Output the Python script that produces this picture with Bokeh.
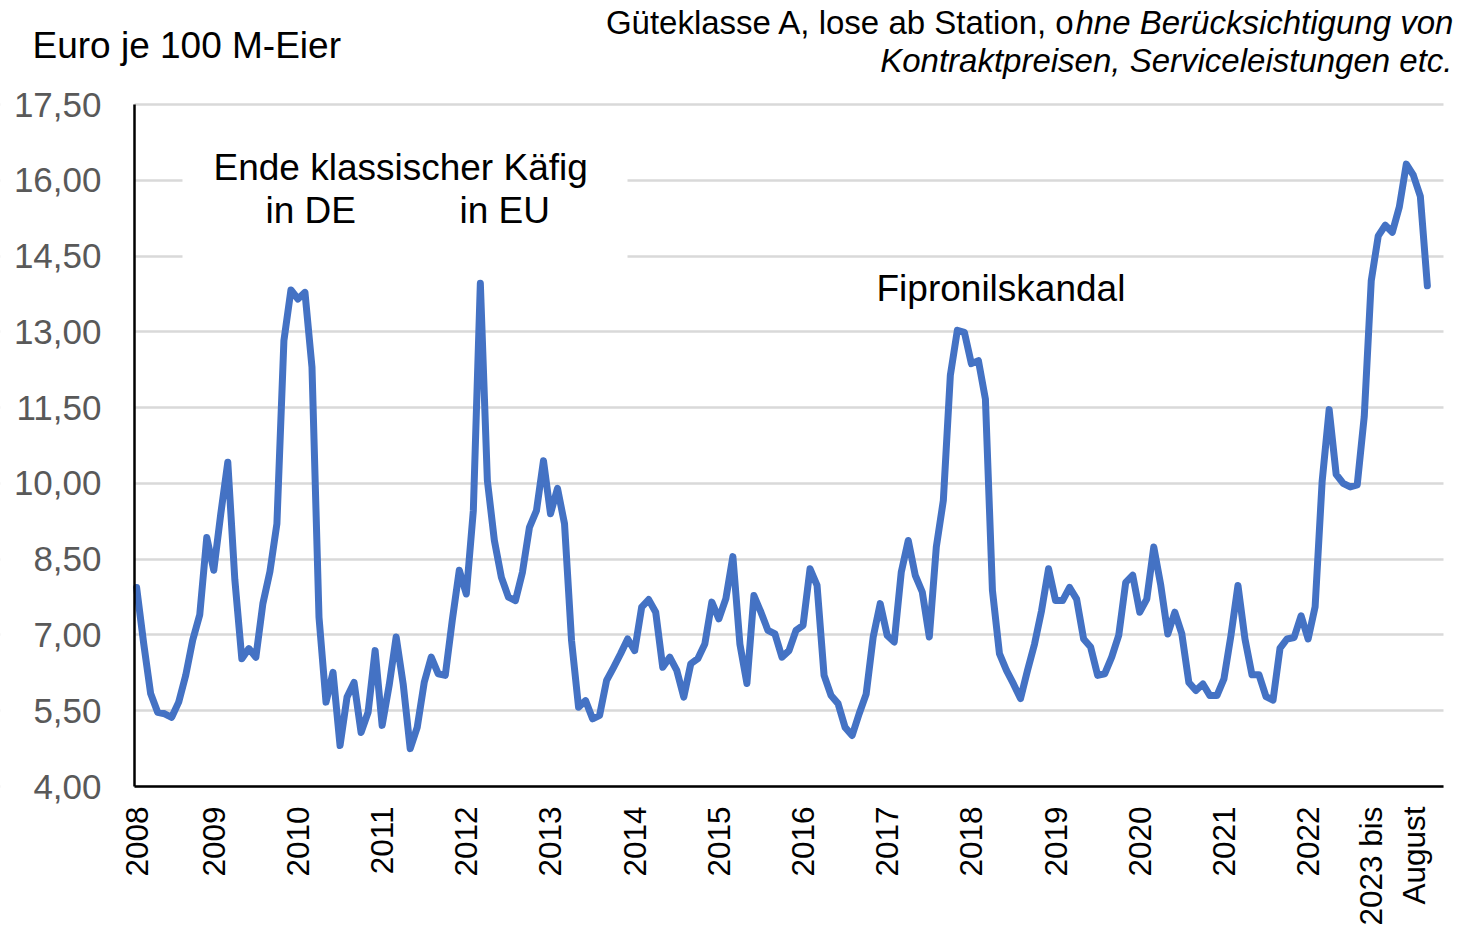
import math
from bokeh.plotting import figure
from bokeh.models import (Range1d, FixedTicker, Label, BoxAnnotation, LinearAxis, Grid)
from bokeh.embed import file_html
from bokeh.resources import INLINE

# ---- data (Euro je 100 M-Eier, monthly) ----
prices = [
    7.94, 6.84, 5.84, 5.47, 5.44, 5.37, 5.67, 6.20, 6.90, 7.40, 8.93, 8.28,
    9.40, 10.42, 8.10, 6.53, 6.73, 6.56, 7.62, 8.25, 9.20, 12.83, 13.83, 13.65,
    13.78, 12.30, 7.35, 5.67, 6.26, 4.81, 5.77, 6.06, 5.07, 5.47, 6.69, 5.21,
    6.00, 6.96, 6.03, 4.75, 5.17, 6.06, 6.56, 6.23, 6.20, 7.29, 8.28, 7.81,
    9.46, 13.96, 10.06, 8.87, 8.14, 7.75, 7.68, 8.24, 9.13, 9.46, 10.45, 9.40,
    9.90, 9.20, 6.89, 5.57, 5.70, 5.34, 5.41, 6.10, 6.36, 6.63, 6.92, 6.69,
    7.55, 7.70, 7.45, 6.36, 6.56, 6.30, 5.77, 6.43, 6.53, 6.82, 7.65, 7.32,
    7.72, 8.55, 6.82, 6.04, 7.78, 7.45, 7.09, 7.02, 6.56, 6.69, 7.09, 7.19,
    8.31, 7.98, 6.20, 5.80, 5.64, 5.17, 5.01, 5.44, 5.83, 6.96, 7.62, 6.99,
    6.86, 8.24, 8.87, 8.18, 7.85, 6.96, 8.74, 9.66, 12.14, 13.03, 12.99, 12.37,
    12.43, 11.67, 7.88, 6.63, 6.30, 6.03, 5.74, 6.30, 6.82, 7.48, 8.31, 7.68,
    7.68, 7.94, 7.71, 6.92, 6.76, 6.20, 6.23, 6.56, 6.99, 8.04, 8.18, 7.45,
    7.71, 8.74, 7.98, 7.02, 7.45, 7.02, 6.06, 5.90, 6.03, 5.80, 5.80, 6.13,
    6.99, 7.98, 6.92, 6.21, 6.21, 5.78, 5.71, 6.74, 6.92, 6.95, 7.38, 6.92,
    7.56, 10.04, 11.46, 10.18, 10.00, 9.93, 9.97, 11.32, 14.01, 14.90, 15.11, 14.97,
    15.47, 16.32, 16.10, 15.68, 13.91,
]
months = list(range(len(prices)))

year_labels = ["2008", "2009", "2010", "2011", "2012", "2013", "2014", "2015",
               "2016", "2017", "2018", "2019", "2020", "2021", "2022",
               "2023 bis\nAugust"]
year_positions = [0, 11, 23, 35, 47, 59, 71, 83, 95, 107, 119, 131, 143, 155, 167, 179]

y_ticks = [4.0, 5.5, 7.0, 8.5, 10.0, 11.5, 13.0, 14.5, 16.0, 17.5]
y_tick_labels = ["4,00", "5,50", "7,00", "8,50", "10,00", "11,50", "13,00",
                 "14,50", "16,00", "17,50"]

# ---- layout (canvas pixel -> data coordinates) ----
W, H = 1460, 926
X0, X1 = -0.3, 186.3          # x extent of the plotting area
Y0, Y1 = 4.0, 17.5            # y extent of the plotting area
FL, FR, FT, FB = 134, 1443, 104, 786   # plotting area in canvas pixels


def dx(px):
    return X0 + (px - FL) * (X1 - X0) / (FR - FL)


def dy(py):
    return Y0 + (FB - py) * (Y1 - Y0) / (FB - FT)


FONT = "Liberation Sans"

p = figure(width=W, height=H, output_backend="svg", toolbar_location=None,
           x_range=Range1d(dx(0), dx(W)), y_range=Range1d(dy(H), dy(0)),
           x_axis_type=None, y_axis_type=None,
           min_border=0, min_border_left=0, min_border_right=0,
           min_border_top=0, min_border_bottom=0)
p.outline_line_color = None
p.background_fill_color = "white"
p.border_fill_color = "white"

# horizontal grid lines
grid = Grid(dimension=1, ticker=FixedTicker(ticks=y_ticks), bounds=(Y0, Y1),
            grid_line_color="#d9d9d9", grid_line_width=2.5)
p.add_layout(grid, "center")

# white masks: keep grid lines inside the plotting area
for box in (BoxAnnotation(right=X0, fill_color="white", fill_alpha=1.0,
                          line_color=None, level="underlay"),
            BoxAnnotation(left=X1, fill_color="white", fill_alpha=1.0,
                          line_color=None, level="underlay"),
            # white box behind the upper-left annotation (covers grid lines)
            BoxAnnotation(left=dx(182), right=dx(627), top=dy(140), bottom=dy(265),
                          fill_color="white", fill_alpha=1.0, line_color=None,
                          level="underlay")):
    p.add_layout(box)

# y axis
ya = LinearAxis(fixed_location=X0, bounds=(Y0, Y1), ticker=FixedTicker(ticks=y_ticks))
ya.major_label_overrides = {t: l for t, l in zip(y_ticks, y_tick_labels)}
ya.major_label_text_font = FONT
ya.major_label_text_font_size = "35px"
ya.major_label_text_color = "#595959"
ya.axis_line_color = "black"
ya.axis_line_width = 2.5
ya.major_tick_line_color = None
ya.minor_tick_line_color = None
ya.major_tick_out = 0
ya.major_tick_in = 0
ya.minor_tick_out = 0
ya.minor_tick_in = 0
ya.major_label_standoff = 33
p.add_layout(ya, "left")

# x axis
xa = LinearAxis(fixed_location=Y0, bounds=(X0, X1), ticker=FixedTicker(ticks=year_positions))
xa.major_label_overrides = {pos: lab for pos, lab in zip(year_positions, year_labels)}
xa.major_label_orientation = math.pi / 2
xa.major_label_text_font = FONT
xa.major_label_text_font_size = "31.5px"
xa.major_label_text_color = "black"
xa.axis_line_color = "black"
xa.axis_line_width = 2.5
xa.major_tick_line_color = None
xa.minor_tick_line_color = None
xa.major_tick_out = 0
xa.major_tick_in = 0
xa.minor_tick_out = 0
xa.minor_tick_in = 0
xa.major_label_standoff = 20
p.add_layout(xa, "below")

# data line
p.line(months, prices, line_color="#4472C4", line_width=7,
       line_join="round", line_cap="round")


# texts (py = intended baseline in canvas pixels; empirical shift for SVG baseline)
def add_text(px, py, text, size, align="left", style="normal", shift=13.5):
    p.add_layout(Label(x=dx(px), y=dy(py - shift), text=text, text_font=FONT,
                       text_font_size=size, text_align=align,
                       text_baseline="alphabetic", text_color="black",
                       text_font_style=style))


add_text(32, 58, "Euro je 100 M-Eier", "37px")
add_text(1075, 33, "Güteklasse A, lose ab Station, o", "33px", align="right", shift=11.5)
add_text(1075, 33, "hne Berücksichtigung von", "33px", style="italic", shift=11.5)
add_text(1452, 70, "Kontraktpreisen, Serviceleistungen etc.", "33px",
         align="right", style="italic", shift=10.5)
add_text(213, 180, "Ende klassischer Käfig", "37px")
add_text(265, 223, "in DE", "37px")
add_text(459, 223, "in EU", "37px")
add_text(876, 301, "Fipronilskandal", "37px")

open("out.html", "w").write(file_html(p, INLINE))
